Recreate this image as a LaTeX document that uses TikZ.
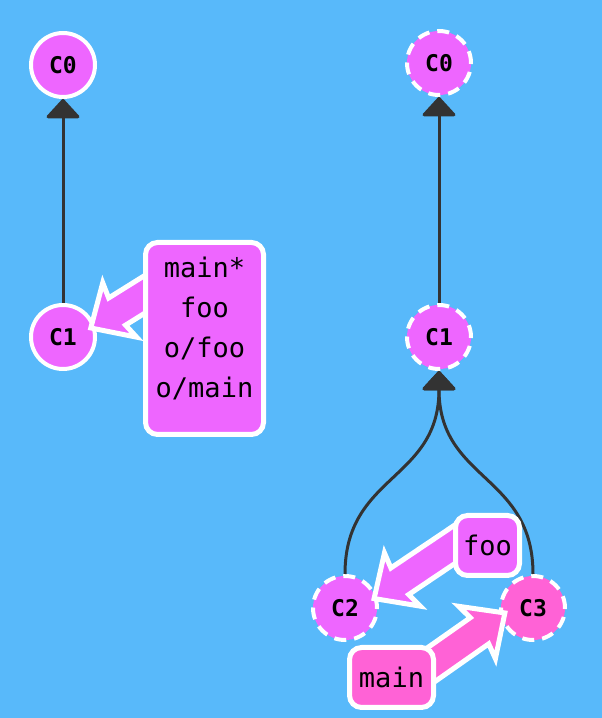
\documentclass[tikz,border=0pt]{standalone}
\usepackage{fontspec}
\setmonofont{DejaVu Sans Mono}
\usetikzlibrary{arrows.meta,calc}
\definecolor{bgblue}{RGB}{88,185,250}
\definecolor{nodepink}{RGB}{238,102,255}
\definecolor{hotpink}{RGB}{255,98,214}
\definecolor{edgegray}{RGB}{51,51,51}
\pgfdeclarelayer{back}
\pgfdeclarelayer{mid}
\pgfsetlayers{back,mid,main}
\tikzset{
  commit/.style={circle,draw=white,line width=4pt,fill=nodepink,minimum size=64pt,inner sep=0pt,
    font=\ttfamily\bfseries\fontsize{23}{23}\selectfont},
  remote/.style={commit,dash pattern=on 12pt off 8pt},
  tag/.style={rectangle,rounded corners=12pt,draw=white,line width=5pt,fill=nodepink,inner sep=0pt,
    font=\ttfamily\fontsize{27}{40}\selectfont,align=center},
  parent/.style={draw=edgegray,line width=3pt,-{Triangle[length=20pt,width=36pt,round]}}
}
% fat arrow: from, tip, colour
\newcommand{\fatarrow}[3]{%
  \path ($(#2)!34pt!(#1)$) coordinate (FAh) ($(#2)!31pt!(#1)$) coordinate (FAn)
        ($(#1)!-20pt!(#2)$) coordinate (FAs);
  \filldraw [fill=#3,draw=white,line width=5pt,miter limit=4] ($(FAs)!16pt!90:(#2)$) -- ($(FAn)!16pt!-90:(#1)$)
    -- ($(FAh)!32pt!-90:(#1)$) -- (#2) -- ($(FAh)!32pt!90:(#1)$) -- ($(FAn)!16pt!90:(#1)$)
    -- ($(FAs)!16pt!-90:(#2)$) -- cycle;
}

\begin{document}
\begin{tikzpicture}[x=1pt,y=1pt]
\useasboundingbox (0,0) rectangle (602,718);
\begin{pgfonlayer}{back}
\fill [bgblue] (0,0) rectangle (602,718);
% local repo
\node [commit] (LC0) at (63,653) {C0};
\node [commit] (LC1) at (63,381) {C1};
\draw [parent] (LC1) -- (LC0);
% remote repo
\node [remote] (RC0) at (439,655) {C0};
\node [remote] (RC1) at (439,381) {C1};
\node [remote] (RC2) at (345,110) {C2};
\node [remote,fill=hotpink] (RC3) at (533,110) {C3};
\draw [parent] (RC1) -- (RC0);
\draw [parent] (RC2.north) .. controls +(0,100) and +(0,-110) .. (RC1.south);
\draw [parent] (RC3.north) .. controls +(0,100) and +(0,-110) .. (RC1.south);
\end{pgfonlayer}

\node [tag,minimum width=118pt,minimum height=192pt,text depth=22pt] (Lbl) at (204.5,379.5) {main*\\foo\\o/foo\\o/main};
\node [tag,minimum width=64pt,minimum height=60pt] (Foo) at (487.5,172.5) {foo};
\node [tag,fill=hotpink,minimum width=84pt,minimum height=60pt] (Main) at (391.5,40.5) {main};

\coordinate (TipL) at ($(LC1)!0.86!(LC1.18)$);
\coordinate (TipFoo) at ($(RC2)!0.9!(RC2.18)$);
\coordinate (TipMain) at ($(RC3)!0.84!(RC3.190)$);
\begin{pgfonlayer}{mid}
\fatarrow{Lbl.145}{TipL}{nodepink}
\fatarrow{Foo.west}{TipFoo}{nodepink}
\fatarrow{Main.20}{TipMain}{hotpink}
\end{pgfonlayer}
\end{tikzpicture}
\end{document}
